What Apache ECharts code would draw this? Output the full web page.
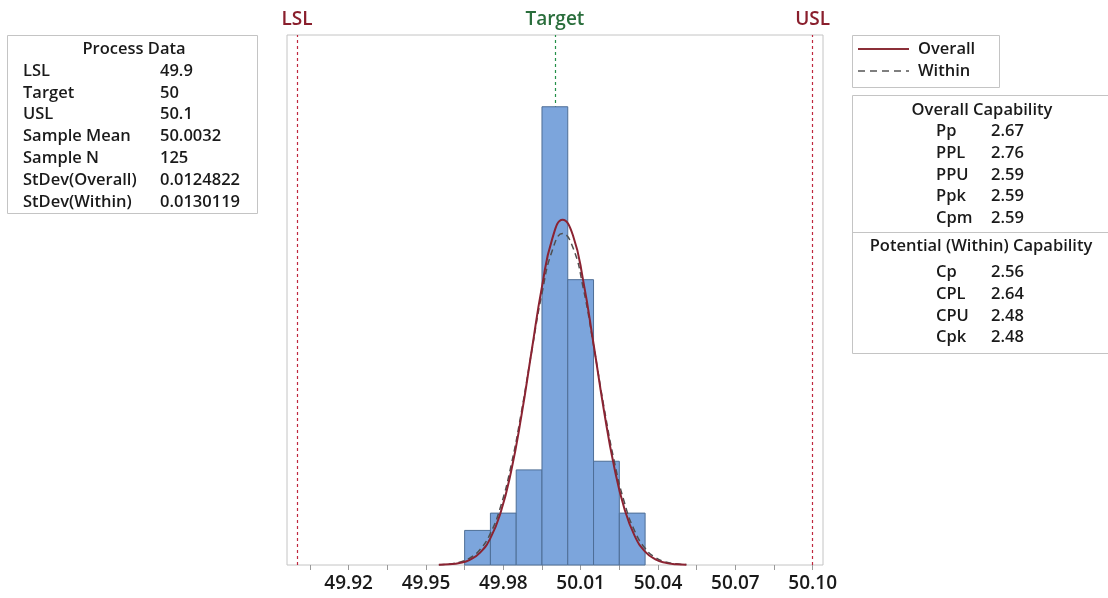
<!DOCTYPE html>
<html><head><meta charset="utf-8">
<script src="https://cdn.jsdelivr.net/npm/echarts@6/dist/echarts.min.js"></script>
<style>html,body{margin:0;padding:0;background:#fff}#c{width:1108px;height:598px}</style>
</head><body><div id="c"></div><script>
// ---------- data ----------
const binCenters = [49.97, 49.98, 49.99, 50.00, 50.01, 50.02, 50.03];
const binCounts = [4, 6, 11, 53, 33, 12, 6];
const binWidth = 0.01;
const curveX = [49.955,49.959,49.963,49.967,49.971,49.975,49.979,49.983,49.987,49.991,49.995,49.999,50.003,50.007,50.011,50.015,50.019,50.023,50.027,50.031,50.035,50.039,50.043,50.047,50.051];
const overallY = [0.023,0.076,0.223,0.596,1.433,3.113,6.098,10.79,17.21,24.78,32.20,37.75,39.94,38.14,32.86,25.56,17.93,11.35,6.487,3.345,1.556,0.654,0.248,0.085,0.026];
const withinY = [0.040,0.120,0.324,0.800,1.794,3.661,6.799,11.49,17.66,24.70,31.43,36.38,38.33,36.73,32.03,25.41,18.34,12.04,7.195,3.911,1.935,0.870,0.356,0.133,0.045];
const specNames = ['LSL', 'Target', 'USL'];
const specValues = [49.9, 50, 50.1];
const tickLabels = ['49.92', '49.95', '49.98', '50.01', '50.04', '50.07', '50.10'];
const tickMarks = [49.905, 49.92, 49.935, 49.95, 49.965, 49.98, 49.995, 50.01, 50.025, 50.04, 50.055, 50.07, 50.085, 50.10];
const processLabels = ['LSL', 'Target', 'USL', 'Sample Mean', 'Sample N', 'StDev(Overall)', 'StDev(Within)'];
const processValues = ['49.9', '50', '50.1', '50.0032', '125', '0.0124822', '0.0130119'];
const overallCapLabels = ['Pp', 'PPL', 'PPU', 'Ppk', 'Cpm'];
const overallCapValues = ['2.67', '2.76', '2.59', '2.59', '2.59'];
const withinCapLabels = ['Cp', 'CPL', 'CPU', 'Cpk'];
const withinCapValues = ['2.56', '2.64', '2.48', '2.48'];
const legendNames = ['Overall', 'Within'];

// ---------- styles ----------
const FONT = '"Open Sans", "Noto Sans", sans-serif';
const TXT = '#1a1a1a';
const RED = '#c0283f';
const GREEN = '#249048';
const specColors = [RED, GREEN, RED];
const labelColors = ['#8a1f2d', '#2a6e3c', '#8a1f2d'];
const BOX = '#c4c4c4';
const FS = 16.5;

const chart = echarts.init(document.getElementById('c'), null, {renderer: 'canvas'});

function txt(x, y, s, align) {
  return {type: 'text', x: x, y: y, style: {text: s, fill: TXT, font: '600 ' + FS + 'px ' + FONT, textAlign: align || 'left', textVerticalAlign: 'middle'}};
}
const g = [];
// Process Data box
g.push({type: 'rect', shape: {x: 7.5, y: 35.5, width: 250, height: 178}, style: {fill: 'none', stroke: BOX, lineWidth: 1}});
g.push(txt(134, 49, 'Process Data', 'center'));
const pRows = [71, 93, 114.5, 136, 158, 180, 202];
processLabels.forEach((l, i) => { g.push(txt(23, pRows[i], l)); g.push(txt(160, pRows[i], processValues[i])); });
// Legend box
g.push({type: 'rect', shape: {x: 852.5, y: 35.5, width: 147, height: 52}, style: {fill: 'none', stroke: BOX, lineWidth: 1}});
g.push({type: 'line', shape: {x1: 858, y1: 49, x2: 909, y2: 49}, style: {stroke: '#8b2f38', lineWidth: 2}});
g.push({type: 'line', shape: {x1: 858, y1: 71, x2: 909, y2: 71}, style: {stroke: '#555', lineWidth: 1.5, lineDash: [7, 5]}});
g.push(txt(918, 49, legendNames[0]));
g.push(txt(918, 71, legendNames[1]));
// Capability box
g.push({type: 'rect', shape: {x: 852.5, y: 95.5, width: 270, height: 258}, style: {fill: 'none', stroke: BOX, lineWidth: 1}});
g.push({type: 'line', shape: {x1: 852.5, y1: 232.5, x2: 1108, y2: 232.5}, style: {stroke: BOX, lineWidth: 1}});
g.push(txt(982, 110, 'Overall Capability', 'center'));
const oRows = [131, 153, 175, 196.5, 218];
overallCapLabels.forEach((l, i) => { g.push(txt(936, oRows[i], l)); g.push(txt(991, oRows[i], overallCapValues[i])); });
g.push(txt(981, 246, 'Potential (Within) Capability', 'center'));
const wRows = [272.5, 294, 316, 337.5];
withinCapLabels.forEach((l, i) => { g.push(txt(936, wRows[i], l)); g.push(txt(991, wRows[i], withinCapValues[i])); });

const option = {
  animation: false,
  backgroundColor: '#fff',
  grid: {left: 287, right: 285, top: 35, bottom: 33, show: true, borderColor: BOX, borderWidth: 1, backgroundColor: 'transparent'},
  xAxis: {
    type: 'value', min: 49.8961, max: 50.104,
    axisLine: {show: false},
    axisTick: {show: true, inside: false, length: 5, lineStyle: {color: '#9a9a9a'}, customValues: tickMarks},
    splitLine: {show: false},
    axisLabel: {
      margin: 9,
      color: TXT, fontFamily: FONT, fontWeight: 600, fontSize: 19,
      customValues: tickLabels.map(Number),
      formatter: function (v) {
        const s = Number(v).toFixed(2);
        return tickLabels.indexOf(s) >= 0 ? s : '';
      }
    }
  },
  yAxis: {type: 'value', min: 0, max: 61.3, show: false, splitLine: {show: false}},
  series: [
    {
      type: 'line', data: [], z: 1, silent: true,
      markLine: {
        symbol: 'none', silent: true, z: 1,
        data: specNames.map((n, i) => ({
          name: n, xAxis: specValues[i],
          lineStyle: {color: specColors[i], type: [3, 3], width: 1.2, opacity: 1},
          label: {show: true, position: 'end', formatter: '{b}', distance: 6, color: labelColors[i], fontFamily: FONT, fontWeight: 600, fontSize: 19}
        }))
      }
    },
    {
      type: 'custom', z: 2, silent: true,
      data: binCenters.map((c, i) => [c, binCounts[i]]),
      renderItem: function (params, api) {
        const c = api.value(0), h = api.value(1);
        const p0 = api.coord([c - binWidth / 2, h]);
        const p1 = api.coord([c + binWidth / 2, 0]);
        return {type: 'rect', shape: {x: p0[0], y: p0[1], width: p1[0] - p0[0], height: p1[1] - p0[1]},
          style: {fill: '#7ca5dc', stroke: '#4e6e96', lineWidth: 1}};
      }
    },
    {
      name: legendNames[1], type: 'line', z: 3, smooth: true, showSymbol: false, silent: true,
      data: curveX.map((x, i) => [x, withinY[i]]),
      lineStyle: {color: '#4f4f4f', width: 1.5, type: [6, 4]}
    },
    {
      name: legendNames[0], type: 'line', z: 4, smooth: true, showSymbol: false, silent: true,
      data: curveX.map((x, i) => [x, overallY[i]]),
      lineStyle: {color: '#8b2332', width: 2}
    }
  ],
  graphic: g
};
chart.setOption(option);
</script></body></html>
